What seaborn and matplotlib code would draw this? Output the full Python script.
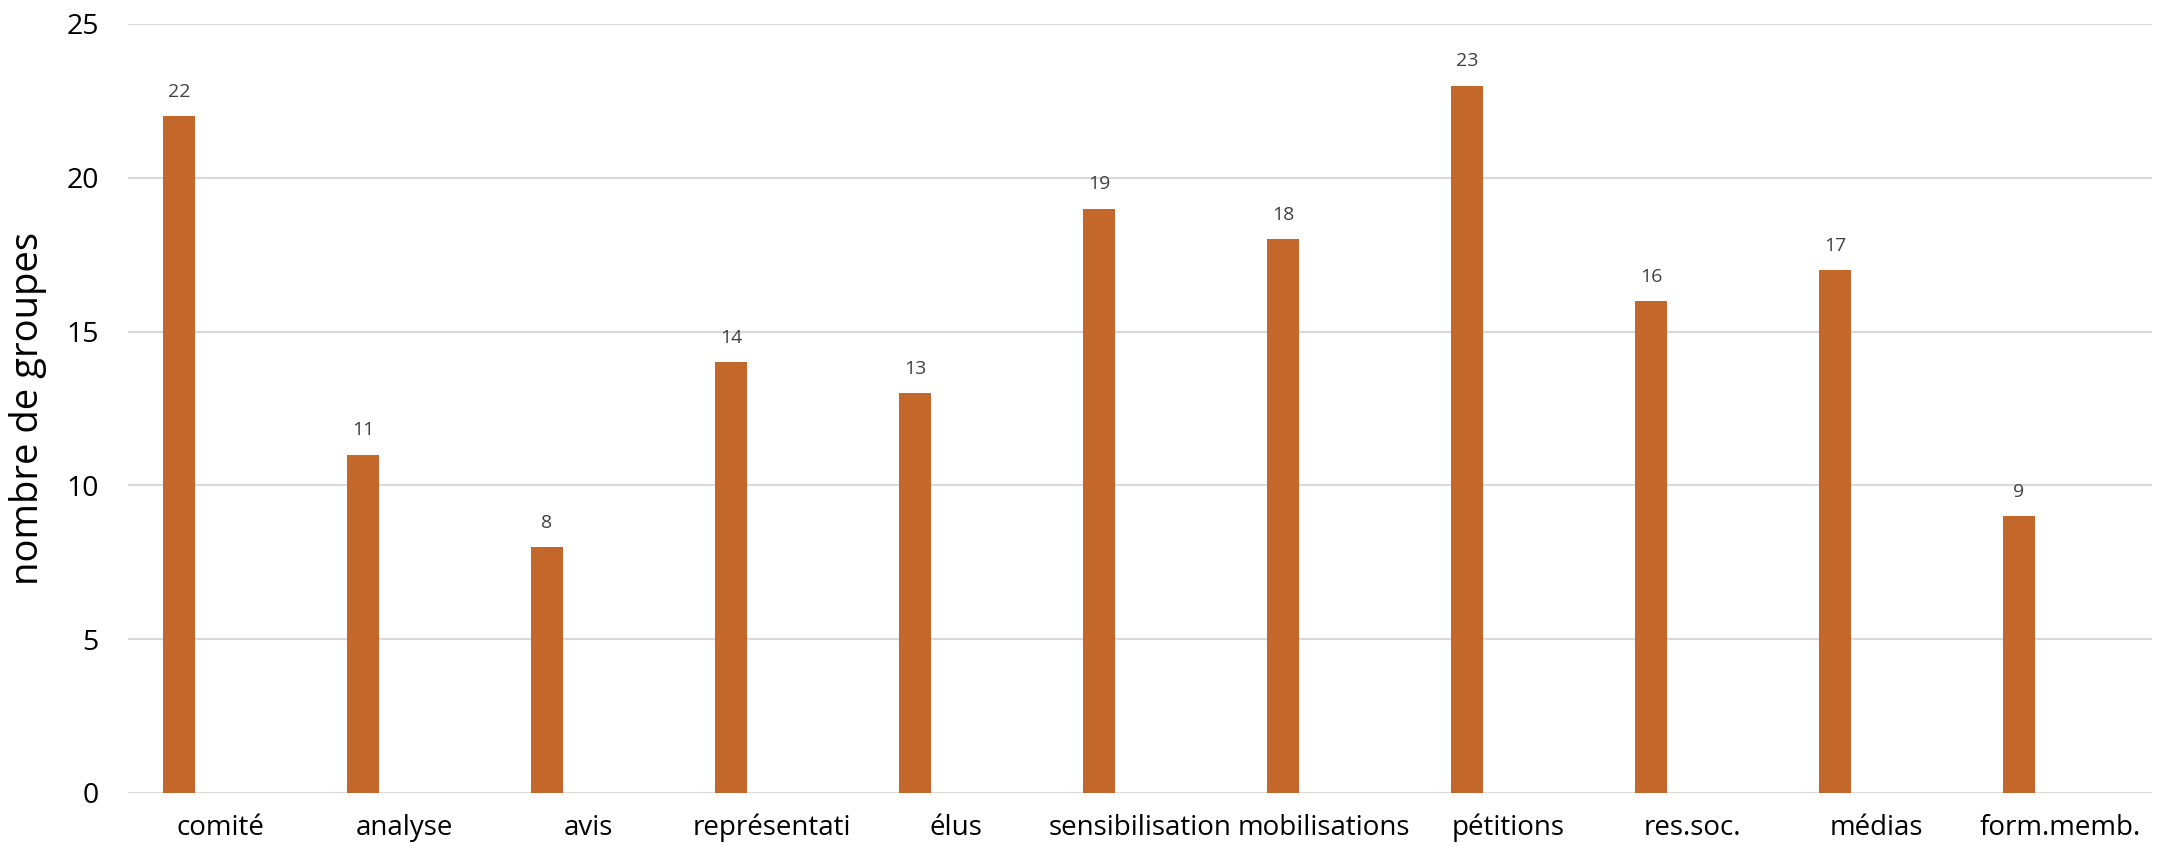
import matplotlib
matplotlib.use("Agg")
import matplotlib.pyplot as plt
import seaborn as sns
import pandas as pd

categories = ["comité", "analyse", "avis", "représentati", "élus", "sensibilisation",
              "mobilisations", "pétitions", "res.soc.", "médias", "form.memb."]
values = [22, 11, 8, 14, 13, 19, 18, 23, 16, 17, 9]
y_ticks = [0, 5, 10, 15, 20, 25]

sns.set_theme(style="white")
plt.rcParams['font.family'] = ['Open Sans', 'DejaVu Sans']

df = pd.DataFrame({"cat": categories, "val": values})

fig = plt.figure(figsize=(21.63, 8.51), dpi=100)
ax = fig.add_axes([0.0592, 0.0682, 0.9357, 0.9036])

bar_w = 0.175
shift = -0.223
sns.barplot(data=df, x="cat", y="val", color="#C4672A", width=bar_w, ax=ax,
            saturation=1, edgecolor="none", zorder=3)
for p in ax.patches:
    p.set_x(p.get_x() + shift)

for p, v in zip(ax.patches, values):
    ax.annotate(str(v), (p.get_x() + p.get_width() / 2, p.get_height()),
                xytext=(0, 11), textcoords="offset points", ha="center", va="bottom",
                fontsize=14, color="#404040")

ax.set_xlim(-0.5, len(categories) - 0.5)
ax.set_ylim(0, 25)
ax.set_yticks(y_ticks)
ax.yaxis.grid(True, color="#D9D9D9", linewidth=1.5, zorder=0)
ax.set_axisbelow(True)
for s in ax.spines.values():
    s.set_visible(False)
ax.tick_params(axis="y", length=0, pad=21, labelsize=20.5, labelcolor="black")
ax.tick_params(axis="x", length=0, pad=15, labelsize=20, labelcolor="black")
ax.set_xlabel("")
ax.set_ylabel("nombre de groupes", fontsize=27.5, labelpad=14, color="black")

fig.savefig("out.png", dpi=100, facecolor="white")
